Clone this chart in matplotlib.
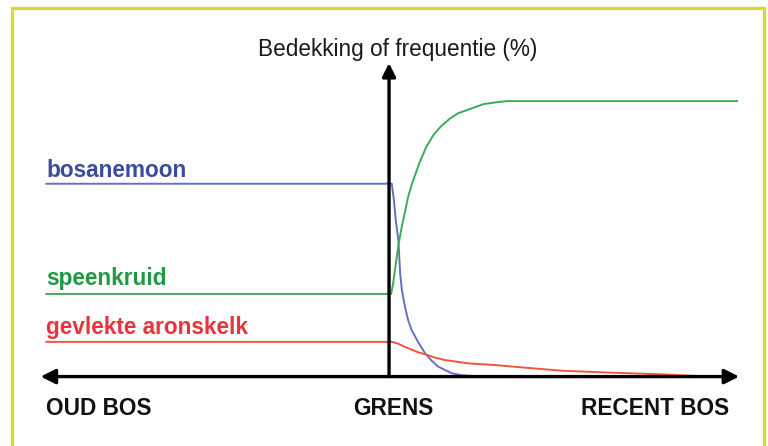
import matplotlib
matplotlib.use("Agg")
import matplotlib.pyplot as plt
from matplotlib.patches import Rectangle

plt.rcParams['font.family'] = ['Liberation Sans', 'DejaVu Sans']

# x: distance from the forest boundary (left = old forest, right = recent forest)
# y: cover or frequency (%)
bos_x = [-99, 0.8, 1.4, 2.0, 2.7, 3.2, 3.7, 4.6, 5.5, 6.5, 8.4, 10.4, 12.4, 14.2, 16.1, 18.1, 21.0, 24.3]
bos_y = [70, 70, 64.1, 56.1, 49.5, 37.5, 31.4, 25.3, 20.5, 16.9, 12.5, 8.4, 5.6, 3.6, 2.4, 1.2, 0.5, 0.2]

speen_x = [-99, 0.6, 1.2, 1.7, 2.7, 3.7, 4.6, 5.5, 6.5, 7.8, 8.9, 10.7, 12.8, 15.0,
           17.6, 19.9, 22.4, 24.8, 27.2, 30.5, 33.9, 100.6]
speen_y = [30, 30, 33.9, 38.7, 47.7, 54.6, 59.8, 65.2, 69.5, 74.2, 78.0, 83.3, 87.7, 90.9,
           93.7, 95.6, 96.7, 97.8, 98.9, 99.5, 100, 100]

aron_x = [-99, 0.8, 2.5, 4.5, 6.5, 8.4, 10.4, 13.0, 16.1, 22.8, 30.5, 35.7, 50.1, 64.6, 79.0, 88.8]
aron_y = [12.6, 12.6, 12.0, 10.8, 9.8, 8.8, 8.1, 7.0, 6.0, 4.8, 4.2, 3.6, 2.1, 1.4, 0.8, 0.2]

species = ['bosanemoon', 'speenkruid', 'gevlekte aronskelk']
label_y = [72.4, 33.2, 15.4]
line_colors = ['#6471bd', '#3daa58', '#f2553f']
text_colors = ['#3b4c9c', '#1f9a44', '#e8343c']

zones = ['OUD BOS', 'GRENS', 'RECENT BOS']
zone_x = [-98.8, 1.2, 98.0]
zone_ha = ['left', 'center', 'right']

fs = 16.3

fig = plt.figure(figsize=(7.68, 4.46), dpi=100)
ax = fig.add_axes([0, 0, 1, 1])
ax.set_xlim(-112.1, 109.2)
ax.set_ylim(-25.2, 136.7)
ax.axis('off')

for (xs, ys), c in zip([(bos_x, bos_y), (speen_x, speen_y), (aron_x, aron_y)], line_colors):
    ax.plot(xs, ys, color=c, lw=1.4, solid_capstyle='butt', solid_joinstyle='round', zorder=2)

for name, yy, c in zip(species, label_y, text_colors):
    ax.text(-98.8, yy, name, color=c, fontsize=fs, fontweight='bold', va='baseline', ha='left')

# axes drawn as arrows
ax.annotate('', xy=(-100.4, 0), xytext=(100.9, 0),
            arrowprops=dict(arrowstyle='<|-|>', lw=2.4, color='black',
                            mutation_scale=22, shrinkA=0, shrinkB=0), zorder=3)
ax.annotate('', xy=(0, 113.8), xytext=(0, 0),
            arrowprops=dict(arrowstyle='-|>', lw=2.4, color='black',
                            mutation_scale=20, shrinkA=0, shrinkB=0), zorder=3)

ax.text(2.4, 116.3, 'Bedekking of frequentie (%)', fontsize=fs, ha='center', va='baseline',
        color='#1a1a1a')

for lab, xx, ha in zip(zones, zone_x, zone_ha):
    ax.text(xx, -14.0, lab, fontsize=fs, fontweight='bold', ha=ha, va='baseline', color='#111111')

# yellow-green frame
fig.add_artist(Rectangle((12 / 768, -0.1), (764 - 12) / 768, 1.1 - 8 / 446,
                         transform=fig.transFigure, fill=False, edgecolor='#d3da3a', lw=2.4))

fig.savefig('out.png', dpi=100)
